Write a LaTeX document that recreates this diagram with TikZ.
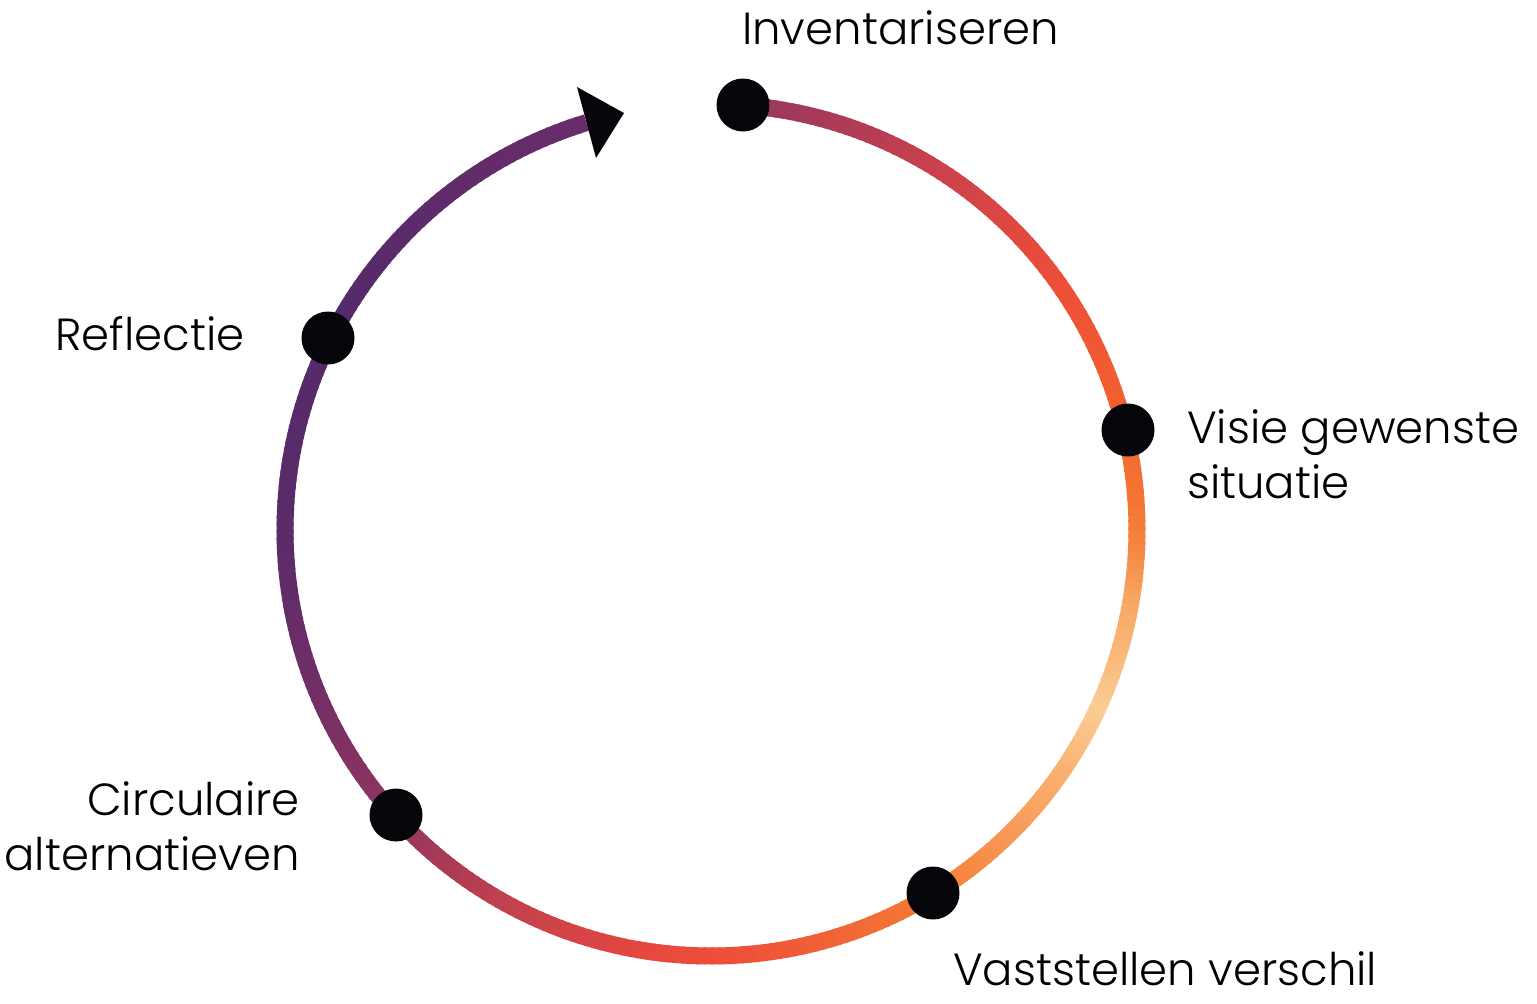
\documentclass[tikz,border=0pt]{standalone}
\usepackage{fontspec}
\setmainfont{Poppins Light}
\definecolor{dotc}{HTML}{06060A}
\definecolor{k01}{HTML}{6A2C6A}
\definecolor{k02}{HTML}{552A6A}
\definecolor{k03}{HTML}{5B2B6A}
\definecolor{k04}{HTML}{6E2E66}
\definecolor{k05}{HTML}{93355F}
\definecolor{k06}{HTML}{C0404F}
\definecolor{k07}{HTML}{E5473F}
\definecolor{k08}{HTML}{EF5138}
\definecolor{k09}{HTML}{F47A33}
\definecolor{k10}{HTML}{F9B070}
\definecolor{k11}{HTML}{FBCC93}
\definecolor{k12}{HTML}{F7A863}
\definecolor{k13}{HTML}{F47D36}
\definecolor{k14}{HTML}{F3632F}
\definecolor{k15}{HTML}{EE4E37}
\definecolor{k16}{HTML}{D0424A}
\definecolor{k17}{HTML}{A83A58}
\definecolor{k18}{HTML}{993760}
\tikzset{
  stage/.style={circle, fill=dotc, draw=none, minimum size=53pt, inner sep=0pt},
  lbl/.style={font=\fontsize{45}{55}\selectfont, inner sep=0pt, text=black},
}
\begin{document}
\begin{tikzpicture}[x=1pt,y=-1pt]
\useasboundingbox (0,0) rectangle (1537,1004);
\coordinate (c) at (711,530);
% gradient ring
\foreach \a/\b/\ca/\cb in {107/150/k01/k02,150/180/k02/k03,180/200/k03/k04,200/222/k04/k05,222/240/k05/k06,240/260/k06/k07,260/275/k07/k08,275/300/k08/k09,300/325/k09/k10,325/335/k10/k11,335/350/k11/k12,350/360/k12/k13,360/374/k13/k14,374/395/k14/k15,395/415/k15/k16,415/435/k16/k17,435/446/k17/k18}{
  \pgfmathtruncatemacro\e{\b-1}
  \foreach \t in {\a,...,\e}{
    \pgfmathtruncatemacro\p{(\t+0.5-\a)/(\b-\a)*100}
    \draw[line width=17pt, line cap=butt, draw=\cb!\p!\ca]
      ([shift={(c)}]{-\t}:426) arc[start angle={-\t}, end angle={-(\t+1.4)}, radius=426];
  }
}
% arrow head
\fill[dotc] (577,87) -- (624,113) -- (596,158) -- cycle;
% stages
\node[stage] (inv) at (743,105) {};
\node[stage] (vis) at (1128,430) {};
\node[stage] (vas) at (933,893) {};
\node[stage] (cir) at (396,815) {};
\node[stage] (ref) at (328,338) {};
% labels
\node[lbl, anchor=base west] (tinv) at (742,44) {Inventariseren};
\node[lbl, anchor=base west, align=left] (tvis) at (1187,498) {Visie gewenste\\situatie};
\node[lbl, anchor=base west] (tvas) at (953,985) {Vaststellen verschil};
\node[lbl, anchor=base east, align=right] (tcir) at (300,870) {Circulaire\\alternatieven};
\node[lbl, anchor=base west] (tref) at (55,350) {Reflectie};
\end{tikzpicture}
\end{document}
